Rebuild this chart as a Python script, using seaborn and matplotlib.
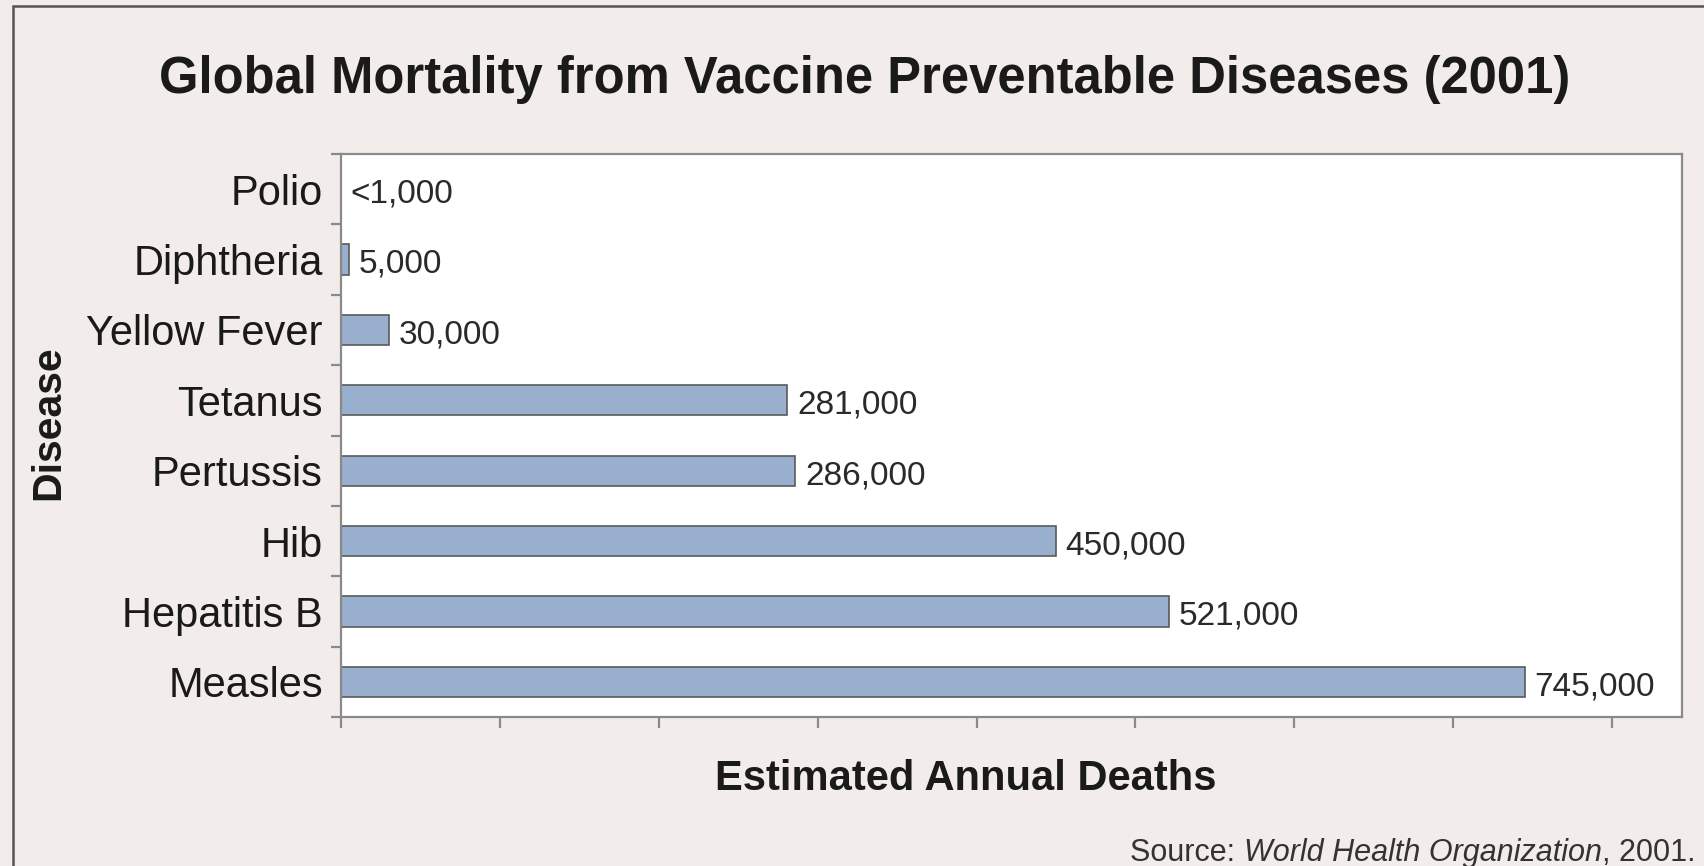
import numpy as np
import pandas as pd
import matplotlib.pyplot as plt
from matplotlib.patches import Rectangle
from matplotlib.ticker import MultipleLocator, FixedLocator
import seaborn as sns

diseases = ['Polio', 'Diphtheria', 'Yellow Fever', 'Tetanus', 'Pertussis',
            'Hib', 'Hepatitis B', 'Measles']
deaths = [0, 5000, 30000, 281000, 286000, 450000, 521000, 745000]
value_labels = ['<1,000', '5,000', '30,000', '281,000', '286,000',
                '450,000', '521,000', '745,000']

BG = '#F2EDEA'
BAR = '#99AFCE'

sns.set_theme(style='white')
plt.rcParams['font.family'] = ['Liberation Sans', 'DejaVu Sans']

df = pd.DataFrame({'Disease': diseases, 'Deaths': deaths})

fig = plt.figure(figsize=(17.04, 8.66), dpi=100, facecolor=BG)
ax = fig.add_axes([0.2001, 0.1721, 0.787, 0.650])
ax.set_facecolor('white')

sns.barplot(data=df, x='Deaths', y='Disease', orient='h', color=BAR,
            saturation=1, width=0.43, edgecolor='#5A5A5A', linewidth=1.2, ax=ax)

ax.set_xlim(0, 844000)
ax.set_ylim(7.5, -0.5)

# value labels just past the bar ends
for i, (v, lab) in enumerate(zip(deaths, value_labels)):
    ax.annotate(lab, xy=(v, i), xytext=(7, -3.5), textcoords='offset points',
                ha='left', va='center', fontsize=24, color='#2a2a2a')

# axis styling
for s in ax.spines.values():
    s.set_color('#8A8A8A')
    s.set_linewidth(1.6)

ax.xaxis.set_major_locator(MultipleLocator(100000))
ax.set_xticklabels([])
ax.tick_params(axis='x', which='major', bottom=True, length=8, width=1.6,
               color='#8A8A8A', direction='out')

ax.yaxis.set_major_locator(FixedLocator(range(len(diseases))))
ax.set_yticklabels(diseases, fontsize=30, color='#1a1a1a')
ax.yaxis.set_minor_locator(FixedLocator(np.arange(-0.5, len(diseases), 1.0)))
ax.tick_params(axis='y', which='major', left=True, length=0, pad=13)
ax.tick_params(axis='y', which='minor', left=True, length=7, width=1.6,
               color='#8A8A8A', direction='out')

ax.set_xlabel('')
ax.set_ylabel('')

fig.text(865 / 1704, 1 - 80 / 866,
         'Global Mortality from Vaccine Preventable Diseases (2001)',
         ha='center', va='center', fontsize=36.5, fontweight='bold', color='#1a1a1a')
fig.text(966 / 1704, 1 - 779 / 866, 'Estimated Annual Deaths',
         ha='center', va='center', fontsize=30, fontweight='bold', color='#1a1a1a')
fig.text(48 / 1704, 1 - 423 / 866, 'Disease', rotation=90,
         ha='center', va='center', fontsize=29.5, fontweight='bold', color='#1a1a1a')

# source line, partly italic
y_src = 1 - 853 / 866
src = fig.text(1695 / 1704, y_src, ', 2001.', ha='right', va='center',
               fontsize=22, color='#333333')
fig.canvas.draw()
bb = src.get_window_extent()
org = fig.text(bb.x0 / 1704, y_src, 'World Health Organization',
               ha='right', va='center', fontsize=22, style='italic', color='#333333')
fig.canvas.draw()
bb2 = org.get_window_extent()
fig.text(bb2.x0 / 1704, y_src, 'Source: ', ha='right', va='center',
         fontsize=22, color='#333333')

# outer frame, open at right and bottom
fig.patches.append(Rectangle((13 / 1704, -0.05), 1.2, 1.05 - 6 / 866,
                             transform=fig.transFigure, fill=False,
                             edgecolor='#555555', linewidth=1.8))

fig.savefig('out.png', dpi=100, facecolor=BG)
